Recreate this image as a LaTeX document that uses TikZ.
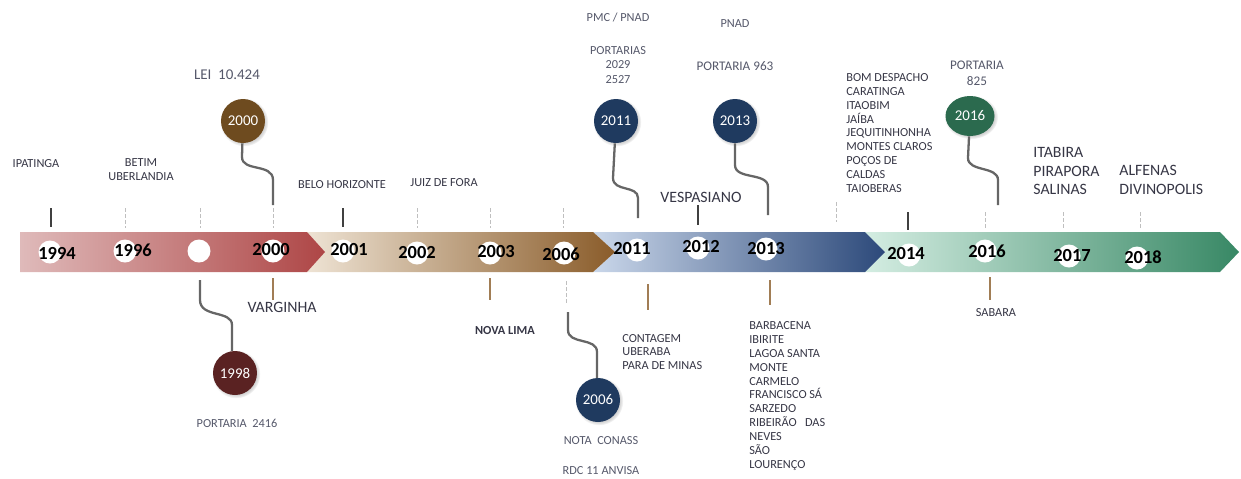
\documentclass[tikz,border=0pt]{standalone}
\usepackage{fontspec}
\setmainfont{Carlito}
\usepackage{xcolor}
\definecolor{colorRedA}{HTML}{DFBABA}
\definecolor{colorRedB}{HTML}{AE4646}
\definecolor{colorBrownA}{HTML}{EEE3D4}
\definecolor{colorBrownB}{HTML}{8A5C2A}
\definecolor{colorBlueA}{HTML}{CAD7EA}
\definecolor{colorBlueB}{HTML}{2C497A}
\definecolor{colorGreenA}{HTML}{D4EDE2}
\definecolor{colorGreenB}{HTML}{388865}
\definecolor{colorBubbleBrown}{HTML}{6E4B1F}
\definecolor{colorBubbleRed}{HTML}{5A2222}
\definecolor{colorBubbleBlue}{HTML}{1F3A5F}
\definecolor{colorBubbleGreen}{HTML}{2B6A4E}
\definecolor{colorText}{HTML}{363645}
\definecolor{colorNote}{HTML}{55586A}
\usetikzlibrary{shadows, shapes.geometric}
\tikzset{
  hole/.style={circle, fill=white, inner sep=0pt, minimum size=0.46cm},
  yeartext/.style={font=\fontsize{10.5}{12}\selectfont\bfseries, text=black, inner sep=0pt},
  bubble/.style={circle, inner sep=0pt, minimum size=0.88cm, text=white,
    font=\fontsize{8.5}{10}\selectfont,
    circular drop shadow={shadow xshift=0.6pt, shadow yshift=-0.6pt, opacity=0.35}},
  town/.style={font=\fontsize{7}{7.9}\selectfont, text=colorText, inner sep=0pt},
  bigtown/.style={font=\fontsize{9}{10.6}\selectfont, text=colorText, inner sep=0pt},
  note/.style={font=\fontsize{7}{8}\selectfont, text=colorNote, inner sep=0pt},
  wave/.style={draw=black!60, line width=1.3pt},
  stem/.style={draw=colorBrownB!80, line width=0.6pt},
  tickon/.style={draw=black!75, line width=1pt},
  tickoff/.style={draw=black!25, line width=0.4pt, dash pattern=on 2pt off 1.5pt},
}
\begin{document}
\begin{tikzpicture}[x=0.02cm, y=-0.02cm]
\useasboundingbox (0,0) rectangle (1241,478);

\shade[left color=colorGreenA, right color=colorGreenB] (865,232) -- (1220,232) -- (1239,252) -- (1220,272) -- (865,272) -- (885,252) -- cycle;
\shade[left color=colorBlueA, right color=colorBlueB] (593,232) -- (865,232) -- (885,252) -- (865,272) -- (593,272) -- (615,252) -- cycle;
\shade[left color=colorBrownA, right color=colorBrownB] (307,232) -- (593,232) -- (615,252) -- (593,272) -- (307,272) -- (325,252) -- cycle;
\shade[left color=colorRedA, right color=colorRedB] (20,232) -- (307,232) -- (325,252) -- (307,272) -- (20,272) -- cycle;

\node[hole] (h94) at (50,252) {};
\node[hole] (h96) at (125,251) {};
\node[hole] (h98) at (199,251) {};
\node[hole] (h00) at (273,251) {};
\node[hole] (h01) at (343,251) {};
\node[hole] (h02) at (417,253) {};
\node[hole] (h03) at (490,253) {};
\node[hole] (h06) at (564,253) {};
\node[hole] (h11) at (637,250) {};
\node[hole] (h12) at (698,248) {};
\node[hole] (h13) at (766,249) {};
\node[hole] (h14) at (909,255) {};
\node[hole] (h16) at (985,251) {};
\node[hole] (h17) at (1069,256) {};
\node[hole] (h18) at (1137,258) {};

\node[yeartext] (t94) at (57,253) {1994};
\node[yeartext] (t96) at (133,250) {1996};
\node[yeartext] (t00) at (271,250) {2000};
\node[yeartext] (t01) at (349,250) {2001};
\node[yeartext] (t02) at (417,253) {2002};
\node[yeartext] (t03) at (496,252) {2003};
\node[yeartext] (t06) at (561,254) {2006};
\node[yeartext] (t11) at (632,249) {2011};
\node[yeartext] (t12) at (701,247) {2012};
\node[yeartext] (t13) at (766,249) {2013};
\node[yeartext] (t14) at (906,254) {2014};
\node[yeartext] (t16) at (987,251) {2016};
\node[yeartext] (t17) at (1072,256) {2017};
\node[yeartext] (t18) at (1143,257) {2018};

\draw[tickon] (51,208) -- (51,227);
\draw[tickoff] (125,208) -- (125,228);
\draw[tickoff] (200,208) -- (200,228);
\draw[tickoff] (273,208) -- (273,228);
\draw[tickon] (343,208) -- (343,227);
\draw[tickoff] (417,208) -- (417,228);
\draw[tickoff] (490,208) -- (490,228);
\draw[tickoff] (563,208) -- (563,228);
\draw[tickon] (698,205) -- (698,225);
\draw[tickoff] (836,202) -- (836,222);
\draw[tickon] (908,212) -- (908,230);
\draw[tickoff] (985,212) -- (985,230);
\draw[tickoff] (1063,212) -- (1063,230);
\draw[tickoff] (1140,212) -- (1140,230);

\draw[stem] (273,278) -- (273,300);
\draw[stem] (490,278) -- (490,300);
\draw[tickoff] (566,281) -- (566,303);
\draw[stem] (648,284) -- (648,310);
\draw[stem] (770,280) -- (770,305);
\draw[stem] (990,277) -- (990,300);

\node[bubble, fill=colorBubbleBrown] (b00) at (243,121) {2000};
\node[bubble, fill=colorBubbleRed] (b98) at (235,373) {1998};
\node[bubble, fill=colorBubbleBlue] (b11) at (616,121) {2011};
\node[bubble, fill=colorBubbleBlue] (b13) at (735,121) {2013};
\node[bubble, fill=colorBubbleBlue] (b06) at (598,400) {2006};
\node[bubble, ellipse, minimum width=0.98cm, minimum height=0.8cm, fill=colorBubbleGreen] (b16) at (970,116) {2016};

\coordinate (e00) at (273,205);
\coordinate (e98) at (200,280);
\coordinate (e11) at (638,218);
\coordinate (e13) at (768,215);
\coordinate (e16) at (998,205);
\coordinate (e06) at (568,312);
\draw[wave] (b00) -- (242,157) .. controls (242,172) and (273,163) .. (273,180) -- (e00);
\draw[wave] (b98) -- (232,350) -- (232,325) .. controls (232,310) and (200,318) .. (200,300) -- (e98);
\draw[wave] (b11) -- (613,178) .. controls (613,192) and (638,185) .. (638,198) -- (e11);
\draw[wave] (b13) -- (735,165) .. controls (735,180) and (768,172) .. (768,187) -- (e13);
\draw[wave] (b16) -- (968,158) .. controls (968,172) and (998,166) .. (998,180) -- (e16);
\draw[wave] (b06) -- (597,378) -- (597,352) .. controls (597,337) and (568,345) .. (568,330) -- (e06);

\node[town] (ipatinga) at (36,164) {IPATINGA};
\node[town, align=center] (betim) at (141,170) {BETIM\\UBERLANDIA};
\node[town] (belo) at (342,185) {BELO HORIZONTE};
\node[town] (juiz) at (444,183) {JUIZ DE FORA};
\node[bigtown] (vespasiano) at (701,197) {VESPASIANO};
\node[town, anchor=west, align=left] (bomdespacho) at (846,133) {BOM DESPACHO\\CARATINGA\\ITAOBIM\\JAÍBA\\JEQUITINHONHA\\MONTES CLAROS\\POÇOS DE\\CALDAS\\TAIOBERAS};
\node[bigtown, anchor=west, align=left] (itabira) at (1033,171) {ITABIRA\\PIRAPORA\\SALINAS};
\node[bigtown, anchor=west, align=left] (alfenas) at (1119,180) {ALFENAS\\DIVINOPOLIS};
\node[bigtown] (varginha) at (282,307) {VARGINHA};
\node[town, font=\fontsize{7}{8}\selectfont\bfseries] (novalima) at (505,330) {NOVA LIMA};
\node[town, anchor=west, align=left] (contagem) at (622,352) {CONTAGEM\\UBERABA\\PARA DE MINAS};
\node[town, anchor=west, align=left] (barbacena) at (749,396) {BARBACENA\\IBIRITE\\LAGOA SANTA\\MONTE\\CARMELO\\FRANCISCO SÁ\\SARZEDO\\RIBEIRÃO\ \ \ DAS\\NEVES\\SÃO\\LOURENÇO};
\node[town] (sabara) at (996,313) {SABARA};

\node[note, font=\fontsize{8.5}{10}\selectfont] (lei) at (227,75) {LEI\ \ 10.424};
\node[note] (p2416) at (237,423) {PORTARIA\ \ 2416};
\node[note] (pmc) at (618,17) {PMC / PNAD};
\node[note, align=center] (p2029) at (618,65) {PORTARIAS\\2029\\2527};
\node[note] (pnad) at (735,24) {PNAD};
\node[note, font=\fontsize{7.5}{9}\selectfont] (p963) at (735,66) {PORTARIA 963};
\node[note, align=center, font=\fontsize{7.5}{9}\selectfont] (p825) at (977,73) {PORTARIA\\825};
\node[note] (conass) at (601,441) {NOTA\ \ CONASS};
\node[note] (rdc) at (601,471) {RDC 11 ANVISA};
\end{tikzpicture}
\end{document}
